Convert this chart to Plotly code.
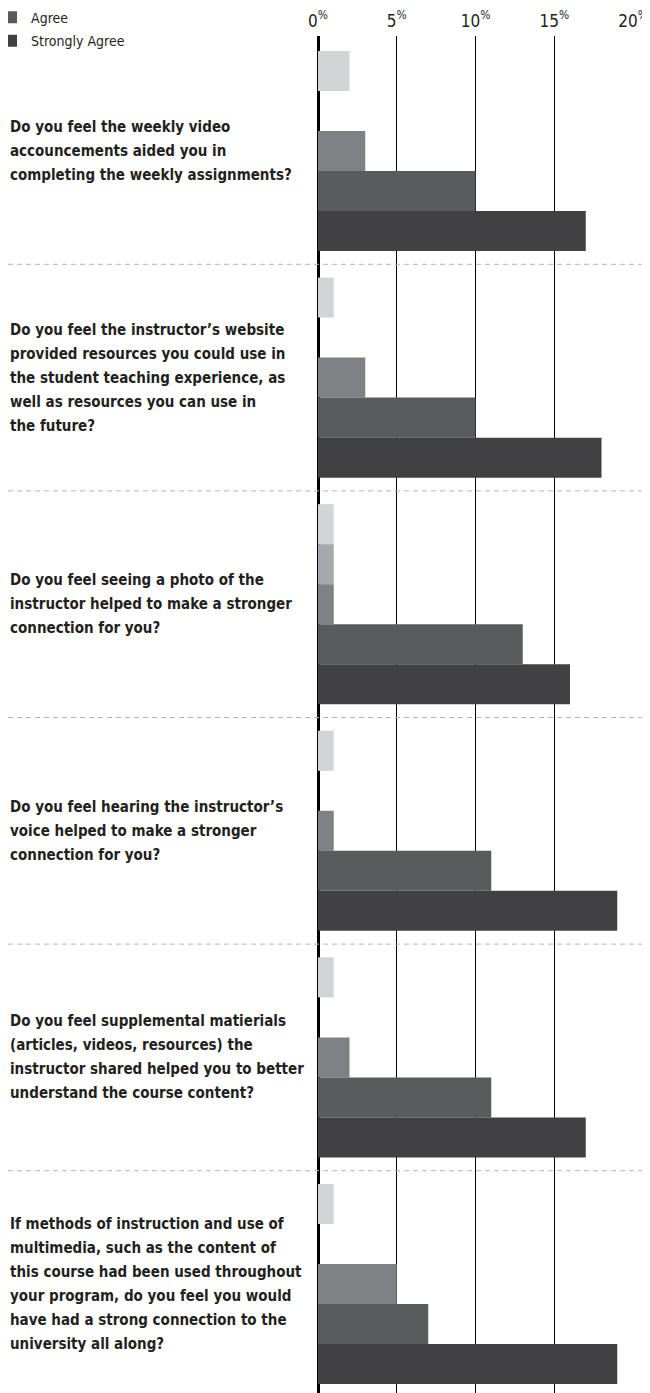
import plotly.graph_objects as go

questions = [
    "Do you feel the weekly video<br>accouncements aided you in<br>completing the weekly assignments?",
    "Do you feel the instructor’s website<br>provided resources you could use in<br>the student teaching experience, as<br>well as resources you can use in<br>the future?",
    "Do you feel seeing a photo of the<br>instructor helped to make a stronger<br>connection for you?",
    "Do you feel hearing the instructor’s<br>voice helped to make a stronger<br>connection for you?",
    "Do you feel supplemental matierials<br>(articles, videos, resources) the<br>instructor shared helped you to better<br>understand the course content?",
    "If methods of instruction and use of<br>multimedia, such as the content of<br>this course had been used throughout<br>your program, do you feel you would<br>have had a strong connection to the<br>university all along?",
]
categories = [f"Q{i+1}" for i in range(len(questions))]

series_names = ["Strongly Disagree", "Disagree", "Neutral", "Agree", "Strongly Agree"]
strongly_disagree = [2, 1, 1, 1, 1, 1]
disagree = [0, 0, 1, 0, 0, 0]
neutral = [3, 3, 1, 1, 2, 5]
agree = [10, 10, 13, 11, 11, 7]
strongly_agree = [17, 18, 16, 19, 17, 19]
series_values = [strongly_disagree, disagree, neutral, agree, strongly_agree]
colors = ["#d3d4d6", "#a7a8ab", "#808184", "#5a5b5d", "#414143"]

tick_vals = [0, 5, 10, 15, 20]
tick_text = [f"{v}<sup>%</sup>" for v in tick_vals]

FONT = "DejaVu Sans Condensed, Liberation Sans Narrow, sans-serif"
TEXT_COLOR = "#231f20"

fig = go.Figure()
for name, vals, col in zip(series_names, series_values, colors):
    fig.add_trace(go.Bar(
        y=categories, x=vals, name=name, orientation="h",
        legendgroup=name,
        marker=dict(color=col, line=dict(width=0)),
    ))

y_range = [5.481, -0.5075]
x_range = [0, 20]

def ypaper(v):
    return (v - y_range[0]) / (y_range[1] - y_range[0])

shapes = []
for i in range(len(categories) - 1):
    yp = ypaper(i + 0.5)
    shapes.append(dict(type="line", xref="paper", yref="paper",
                       x0=-0.984, x1=1.04, y0=yp, y1=yp,
                       line=dict(color="#b5b5b5", width=1, dash="5px,4px")))

LINE_PITCH = 24
annotations = []
for cat, q in zip(categories, questions):
    lines = q.split("<br>")
    n = len(lines)
    for j, line in enumerate(lines):
        annotations.append(dict(
            xref="paper", yref="y", x=-0.984, y=cat, xanchor="left", yanchor="middle",
            yshift=((n - 1) / 2 - j) * LINE_PITCH,
            align="left", showarrow=False, text=line,
            font=dict(family=FONT, size=15, color=TEXT_COLOR, weight="bold"),
        ))

fig.update_layout(
    width=642, height=1385,
    margin=dict(l=310, r=17, t=28, b=0, autoexpand=False),
    paper_bgcolor="white", plot_bgcolor="white",
    barmode="group", bargap=0.117, bargroupgap=0,
    font=dict(family=FONT, size=16, color=TEXT_COLOR),
    xaxis=dict(side="top", range=x_range, tickvals=tick_vals, ticktext=tick_text,
               showgrid=True, gridcolor="black", gridwidth=1,
               zeroline=True, zerolinecolor="black", zerolinewidth=2.5,
               ticks="", showline=False, ticklabelstandoff=5,
               tickfont=dict(size=17, family=FONT, color=TEXT_COLOR)),
    yaxis=dict(range=y_range, showticklabels=False, showgrid=False,
               zeroline=False, ticks="", showline=False),
    legend=dict(x=-1.038, xanchor="left", y=1.0778, yanchor="top",
                font=dict(size=14, family=FONT, color=TEXT_COLOR),
                bgcolor="rgba(0,0,0,0)", tracegroupgap=2.5,
                traceorder="grouped", itemclick=False, itemdoubleclick=False),
    showlegend=True,
    shapes=shapes, annotations=annotations,
)

fig.write_html("out.html")
